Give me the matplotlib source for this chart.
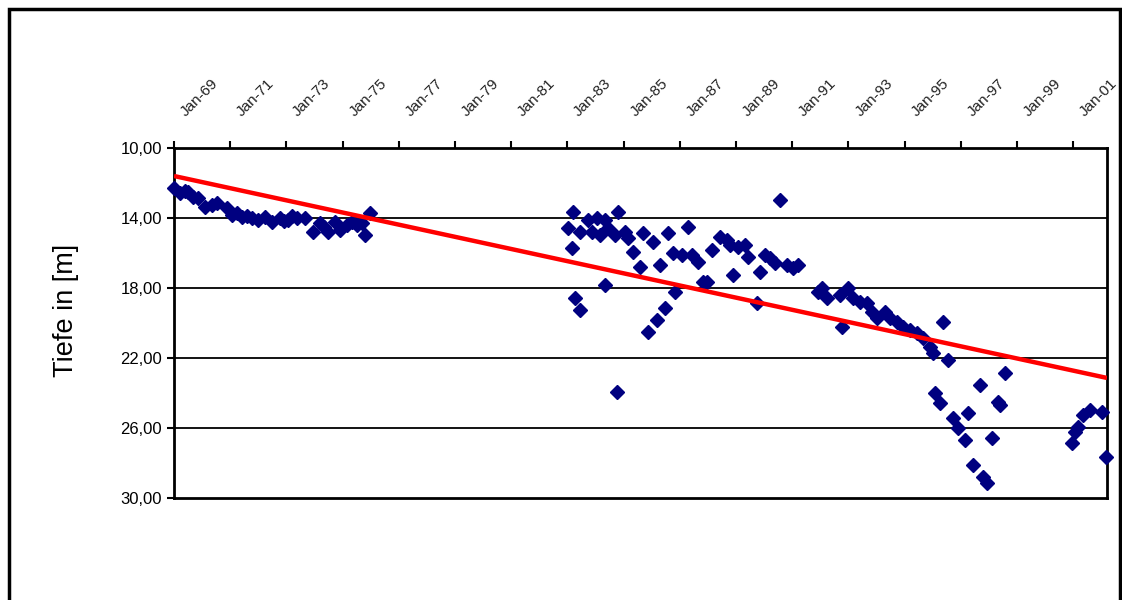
import numpy as np
import matplotlib
matplotlib.use('Agg')
import matplotlib.pyplot as plt
from matplotlib.patches import Rectangle
from matplotlib.transforms import ScaledTranslation

plt.rcParams['font.family'] = ['Liberation Sans', 'DejaVu Sans']

# measurement dates (decimal years) and depth below surface [m]
years = [
    1969.00, 1969.21, 1969.40, 1969.50, 1969.68, 1969.85, 1970.10, 1970.35,
    1970.53, 1970.89, 1971.06, 1971.25, 1971.42, 1971.60, 1971.78, 1971.99,
    1972.24, 1972.49, 1972.77, 1972.90, 1973.06, 1973.20, 1973.38, 1973.66,
    1973.95, 1974.20, 1974.35, 1974.48, 1974.73, 1974.91, 1975.16, 1975.33,
    1975.51, 1975.70, 1975.80, 1975.98,
    1983.02, 1983.16, 1983.20, 1983.27, 1983.45, 1983.45, 1983.73, 1983.88,
    1984.05, 1984.16, 1984.34, 1984.34, 1984.44, 1984.69, 1984.77, 1984.80,
    1985.05, 1985.16, 1985.33, 1985.58, 1985.69, 1985.87, 1986.05, 1986.19,
    1986.30, 1986.47, 1986.58, 1986.76, 1986.83, 1987.08, 1987.29, 1987.43,
    1987.65, 1987.83, 1987.97, 1988.15, 1988.43, 1988.68, 1988.79, 1988.89,
    1989.07, 1989.32, 1989.43, 1989.75, 1989.85, 1990.03, 1990.21, 1990.39,
    1990.57, 1990.82, 1991.03, 1991.21, 1991.92,
    1992.06, 1992.24, 1992.70, 1992.77, 1992.99, 1993.16, 1993.41, 1993.66,
    1993.84, 1994.02, 1994.30, 1994.48, 1994.73, 1994.94, 1995.19, 1995.44,
    1995.65, 1995.90, 1996.01, 1996.08, 1996.26, 1996.37, 1996.54, 1996.72,
    1996.90, 1997.15, 1997.26, 1997.43, 1997.68, 1997.79, 1997.93, 1998.11,
    1998.32, 1998.40, 1998.57,
    2000.96, 2001.06, 2001.17, 2001.35, 2001.60, 2002.02, 2002.18,
]
depths = [
    12.29, 12.57, 12.45, 12.51, 12.80, 12.86, 13.37, 13.26,
    13.14, 13.43, 13.83, 13.70, 13.94, 13.90, 14.00, 14.11,
    13.94, 14.23, 14.00, 14.15, 14.11, 13.90, 14.00, 14.00,
    14.80, 14.29, 14.50, 14.80, 14.23, 14.69, 14.40, 14.23,
    14.40, 14.30, 14.97, 13.71,
    14.57, 15.71, 13.66, 18.57, 19.26, 14.80, 14.11, 14.80,
    14.00, 14.97, 14.11, 17.83, 14.57, 14.97, 23.94, 13.66,
    14.80, 15.14, 15.94, 16.80, 14.86, 20.51, 15.37, 19.83,
    16.69, 19.14, 14.86, 16.00, 18.23, 16.11, 14.51, 16.11,
    16.51, 17.66, 17.66, 15.83, 15.09, 15.26, 15.54, 17.26,
    15.66, 15.54, 16.23, 18.86, 17.09, 16.11, 16.29, 16.57,
    12.97, 16.69, 16.86, 16.69, 18.23,
    18.00, 18.57, 18.40, 20.23, 18.00, 18.57, 18.80, 18.86,
    19.37, 19.71, 19.37, 19.71, 19.94, 20.23, 20.40, 20.57,
    20.86, 21.37, 21.71, 24.00, 24.57, 19.94, 22.11, 25.43,
    26.00, 26.69, 25.14, 28.11, 23.54, 28.80, 29.14, 26.57,
    24.51, 24.69, 22.86,
    26.86, 26.23, 25.94, 25.26, 24.97, 25.09, 27.66,
]

# linear trend (start / end of axis)
trend_years = [1969.0, 2002.2]
trend_depths = [11.6, 23.14]

tick_years = list(range(1969, 2002, 2))
tick_labels = ['Jan-%02d' % (y % 100) for y in tick_years]
y_ticks = [10, 14, 18, 22, 26, 30]


fig = plt.figure(figsize=(11.22, 6), dpi=100)
ax = fig.add_axes([174/1122, 1 - 498/600, (1107 - 174)/1122, 350/600])

ax.plot(years, depths, linestyle='none', marker='D', markersize=7.4,
        color='#000080', markeredgecolor='#000080', clip_on=False, zorder=3)
ax.plot(trend_years, trend_depths, color='#ff0000', linewidth=3.2, zorder=4,
        solid_capstyle='butt')

ax.set_xlim(1969.0, 2002.2)
ax.set_ylim(30, 10)
ax.set_yticks(y_ticks)
ax.set_yticklabels([('%.2f' % v).replace('.', ',') for v in y_ticks])

for v in y_ticks[1:-1]:
    ax.axhline(v, color='black', linewidth=1.3, zorder=1)

ax.xaxis.tick_top()
ax.set_xticks(tick_years)
ax.set_xticklabels(tick_labels, rotation=45, ha='left', va='bottom',
                   rotation_mode='anchor', fontsize=11, color='#222222')
ax.tick_params(axis='x', direction='out', length=5, width=1.5, pad=16)
ax.tick_params(axis='y', direction='out', length=5, width=1.5, labelsize=12)
shift = ScaledTranslation(10/72, 0, fig.dpi_scale_trans)
for lbl in ax.get_xticklabels():
    lbl.set_transform(lbl.get_transform() + shift)

for s in ax.spines.values():
    s.set_linewidth(2)
    s.set_color('black')

ax.set_ylabel('Tiefe in [m]', fontsize=19.5, labelpad=30)
ax.yaxis.label.set_y(0.535)

# outer frame of the chart area
fig.add_artist(Rectangle((9/1122, -0.05), 1111/1122, 1.05 - 9/600,
                         transform=fig.transFigure, fill=False,
                         edgecolor='black', linewidth=2.5))

fig.savefig('out.png', dpi=100)
